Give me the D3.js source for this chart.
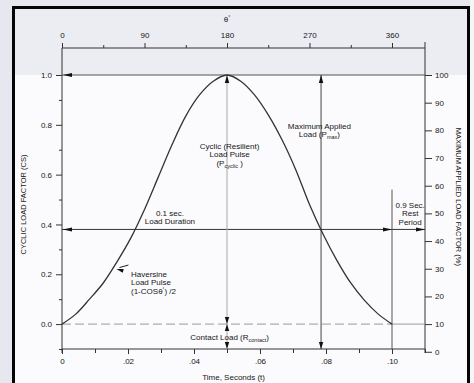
<!DOCTYPE html>
<html>
<head>
<meta charset="utf-8">
<script src="https://cdn.jsdelivr.net/npm/d3@7"></script>
<style>
  html, body { margin: 0; padding: 0; background: #e7e7ef; }
  svg { display: block; }
  text { font-family: "Liberation Sans", Arial, Helvetica, sans-serif; fill: #161616; }
</style>
</head>
<body>
<script>
// Haversine load pulse: angle (degrees) and cyclic load factor
const thetaDeg = [0, 15, 30, 45, 60, 75, 90, 105, 120, 135, 150, 165, 180,
                  195, 210, 225, 240, 255, 270, 285, 300, 315, 330, 345, 360];
const cyclicLoad = [0, 0.04, 0.1, 0.165, 0.25, 0.345, 0.46, 0.59, 0.72, 0.835, 0.92, 0.975, 1.0,
                    0.975, 0.92, 0.84, 0.74, 0.62, 0.48, 0.36, 0.255, 0.165, 0.095, 0.04, 0];
const secondsPerCycle = 0.1;            // one 360 degree pulse lasts 0.1 s

// Axis ticks
const timeTicks = [0, 0.02, 0.04, 0.06, 0.08, 0.10];
const timeTickLabels = ["0", ".02", ".04", ".06", ".08", ".10"];
const timeMinorTicks = [0.01, 0.03, 0.05, 0.07, 0.09, 0.11];
const thetaTicks = [0, 90, 180, 270, 360];
const thetaMinorTicks = [45, 135, 225, 315];
const csTicks = [0, 0.2, 0.4, 0.6, 0.8, 1.0];
const csTickLabels = ["0.0", "0.2", "0.4", "0.6", "0.8", "1.0"];
const csMinorTicks = [-0.1, 0.1, 0.3, 0.5, 0.7, 0.9];
const pctTicks = [0, 10, 20, 30, 40, 50, 60, 70, 80, 90, 100];

// Annotation levels (data units)
const peakTime = 0.05;
const maxLoadTime = 0.0785;
const pulseEndTime = 0.10;
const durationLevel = 0.38;
const restLineTop = 0.54;

const W = 474, H = 383;
const svg = d3.select("body").append("svg").attr("width", W).attr("height", H);

// page + frame
svg.append("rect").attr("width", W).attr("height", H).attr("fill", "#e7e7ef");
svg.append("rect").attr("x", 13).attr("y", 7).attr("width", 456).attr("height", 380).attr("fill", "#fbfbfd");
svg.append("rect").attr("x", 13).attr("y", 7).attr("width", 456).attr("height", 68).attr("fill", "#ececf3");
svg.append("rect").attr("x", 470).attr("y", 0).attr("width", 4).attr("height", H).attr("fill", "#f6f6f9");
svg.append("path").attr("d", "M13.5,385V7.5H468.5V385")
  .attr("fill", "none").attr("stroke", "#050505").attr("stroke-width", 3);

// scales
const x = d3.scaleLinear().domain([0, 0.11]).range([62, 425]);
const y = d3.scaleLinear().domain([-0.1, 1.0]).range([349, 75]);
const yPct = d3.scaleLinear().domain([10, 100]).range([y(0), y(1)]);
const xTheta = d3.scaleLinear().domain([0, 360]).range([x(0), x(secondsPerCycle)]);

const topY = 48;
const g = svg.append("g");

// axis lines
const axisColor = "#333";
g.append("line").attr("x1", x(0)).attr("x2", x(0)).attr("y1", topY).attr("y2", 353)
  .attr("stroke", axisColor).attr("stroke-width", 1);
g.append("line").attr("x1", x(0.11)).attr("x2", x(0.11)).attr("y1", 42).attr("y2", 353)
  .attr("stroke", axisColor).attr("stroke-width", 1);
g.append("line").attr("x1", x(0)).attr("x2", x(0.11)).attr("y1", y(-0.1)).attr("y2", y(-0.1))
  .attr("stroke", axisColor).attr("stroke-width", 1);
g.append("line").attr("x1", x(0)).attr("x2", x(0.11)).attr("y1", topY).attr("y2", topY)
  .attr("stroke", axisColor).attr("stroke-width", 1);

function styleAxis(sel) {
  sel.select(".domain").remove();
  sel.selectAll(".tick line").attr("stroke", axisColor);
  sel.selectAll(".tick text").attr("font-size", 8).attr("fill", "#161616")
    .style("font-family", "'Liberation Sans', Arial, sans-serif");
}

// bottom time axis
g.append("g").attr("transform", `translate(0,${y(-0.1)})`)
  .call(d3.axisBottom(x).tickValues(timeTicks).tickFormat((d, i) => timeTickLabels[i]).tickSize(5).tickPadding(4))
  .call(styleAxis);
g.append("g").attr("transform", `translate(0,${y(-0.1)})`)
  .call(d3.axisBottom(x).tickValues(timeMinorTicks).tickFormat("").tickSize(4))
  .call(styleAxis);

// top angle axis
g.append("g").attr("transform", `translate(0,${topY})`)
  .call(d3.axisTop(xTheta).tickValues(thetaTicks).tickSize(5).tickPadding(5))
  .call(styleAxis);
g.append("g").attr("transform", `translate(0,${topY})`)
  .call(d3.axisTop(xTheta).tickValues(thetaMinorTicks).tickFormat("").tickSize(3))
  .call(styleAxis);

// left cyclic load factor axis
g.append("g").attr("transform", `translate(${x(0)},0)`)
  .call(d3.axisLeft(y).tickValues(csTicks).tickFormat((d, i) => csTickLabels[i]).tickSize(6).tickPadding(4))
  .call(styleAxis);
g.append("g").attr("transform", `translate(${x(0)},0)`)
  .call(d3.axisLeft(y).tickValues(csMinorTicks).tickFormat("").tickSize(3))
  .call(styleAxis);

// right max applied load axis
g.append("g").attr("transform", `translate(${x(0.11)},0)`)
  .call(d3.axisRight(yPct).tickValues(pctTicks).tickSize(7).tickPadding(3))
  .call(styleAxis);

// axis titles
svg.append("text").attr("x", xTheta(180)).attr("y", 22).attr("text-anchor", "middle")
  .attr("font-size", 8).text("θ").append("tspan").attr("dy", -3).attr("font-size", 5).text("°");
svg.append("text").attr("transform", `translate(26,${y(0.48)}) rotate(-90)`)
  .attr("text-anchor", "middle").attr("font-size", 7.5).text("CYCLIC LOAD FACTOR (CS)");
svg.append("text").attr("transform", `translate(456,${yPct(56)}) rotate(90)`)
  .attr("text-anchor", "middle").attr("font-size", 7.5).text("MAXIMUM APPLIED LOAD FACTOR (%)");
svg.append("text").attr("x", x(0.052)).attr("y", 380).attr("text-anchor", "middle")
  .attr("font-size", 8).text("Time, Seconds (t)");

// arrowhead helper (tip at px,py, direction in degrees: 0 = right)
function arrow(px, py, dirDeg, len = 7, half = 2.4) {
  const a = dirDeg * Math.PI / 180;
  const c = Math.cos(a), s = Math.sin(a);
  const bx = px - c * len, by = py - s * len;
  const p = [[px, py], [bx - s * half, by + c * half], [bx + s * half, by - c * half]];
  svg.append("path").attr("d", "M" + p.map(q => q.join(",")).join("L") + "Z").attr("fill", "#111");
}

// reference lines
const refColor = "#555";
svg.append("line").attr("x1", x(0)).attr("x2", x(0.11)).attr("y1", y(1)).attr("y2", y(1))
  .attr("stroke", refColor).attr("stroke-width", 1);
arrow(x(0) + 1, y(1), 180, 9, 2);

// contact load level (dashed to end of pulse, solid to right axis)
svg.append("line").attr("x1", x(0)).attr("x2", x(pulseEndTime)).attr("y1", y(0)).attr("y2", y(0))
  .attr("stroke", "#9a9a9a").attr("stroke-width", 1).attr("stroke-dasharray", "9,4");
svg.append("line").attr("x1", x(pulseEndTime)).attr("x2", x(0.11)).attr("y1", y(0)).attr("y2", y(0))
  .attr("stroke", "#9a9a9a").attr("stroke-width", 1);

// load duration / rest period level
svg.append("line").attr("x1", x(0)).attr("x2", x(0.11)).attr("y1", y(durationLevel)).attr("y2", y(durationLevel))
  .attr("stroke", "#333").attr("stroke-width", 1);
arrow(x(0) + 1, y(durationLevel), 180, 9, 2);
arrow(x(pulseEndTime), y(durationLevel), 0, 9, 2);
arrow(x(0.11), y(durationLevel), 0, 9, 2);

// rest period marker
svg.append("line").attr("x1", x(pulseEndTime)).attr("x2", x(pulseEndTime))
  .attr("y1", y(restLineTop)).attr("y2", y(-0.1))
  .attr("stroke", "#555").attr("stroke-width", 1);

// cyclic pulse marker at the peak
svg.append("line").attr("x1", x(peakTime)).attr("x2", x(peakTime)).attr("y1", y(1)).attr("y2", y(-0.1))
  .attr("stroke", "#a8a8a8").attr("stroke-width", 1);
arrow(x(peakTime), y(1), -90, 8, 2.2);
arrow(x(peakTime), y(0), 90, 7, 2.2);
arrow(x(peakTime), y(0), -90, 7, 2.2);
arrow(x(peakTime), y(-0.1), 90, 7, 2.2);

// maximum applied load marker
svg.append("line").attr("x1", x(maxLoadTime)).attr("x2", x(maxLoadTime)).attr("y1", y(1)).attr("y2", y(-0.1))
  .attr("stroke", "#444").attr("stroke-width", 1);
arrow(x(maxLoadTime), y(1), -90, 8, 2.2);
arrow(x(maxLoadTime), y(-0.1), 90, 7, 2.2);

// haversine pulse curve
const line = d3.line()
  .x((d, i) => x(thetaDeg[i] / 360 * secondsPerCycle))
  .y(d => y(d))
  .curve(d3.curveCatmullRom);
svg.append("path").datum(cyclicLoad).attr("d", line)
  .attr("fill", "none").attr("stroke", "#333").attr("stroke-width", 1.3);

// curve pointer
const ptT = 0.0162, ptV = 0.225;
svg.append("line").attr("x1", x(ptT) + 4).attr("y1", y(ptV) - 0.5).attr("x2", x(ptT) + 13).attr("y2", y(ptV) - 3)
  .attr("stroke", "#222").attr("stroke-width", 1);
arrow(x(ptT) + 1, y(ptV) + 1, 195, 7, 2);

// annotation texts
function label(cx, cy, lines, anchor = "middle") {
  const t = svg.append("text").attr("x", cx).attr("y", cy).attr("text-anchor", anchor).attr("font-size", 8);
  lines.forEach((ln, i) => {
    const ts = t.append("tspan").attr("x", cx).attr("dy", i === 0 ? 0 : 8.4);
    ln.forEach(part => {
      const p = ts.append("tspan").text(part.t);
      if (part.sub) p.attr("font-size", 5.5).attr("dy", 2);
      if (part.sup) p.attr("font-size", 4.5).attr("dy", -2.5);
      if (part.back) p.attr("dy", part.back);
    });
  });
  return t;
}

label(x(0.0508), 149, [[{ t: "Cyclic (Resilient)" }], [{ t: "Load Pulse" }],
  [{ t: "(P" }, { t: "cyclic", sub: true }, { t: " )", back: -2 }]]);
label(x(0.078), 129, [[{ t: "Maximum Applied" }], [{ t: "Load (P" }, { t: "max", sub: true }, { t: ")", back: -2 }]]);
label(x(0.0327), 216, [[{ t: "0.1 sec." }], [{ t: "Load Duration" }]]);
label(x(0.1055), 208, [[{ t: "0.9 Sec." }], [{ t: "Rest" }], [{ t: "Period" }]]);
label(131, 277, [[{ t: "Haversine" }], [{ t: "Load Pulse" }],
  [{ t: "(1-COS" }, { t: "θ" }, { t: "°", sup: true }, { t: ") /2", back: 2.5 }]], "start");
label(x(0.0508), 340, [[{ t: "Contact Load (R" }, { t: "contact", sub: true }, { t: ")", back: -2 }]]);
</script>
</body>
</html>
